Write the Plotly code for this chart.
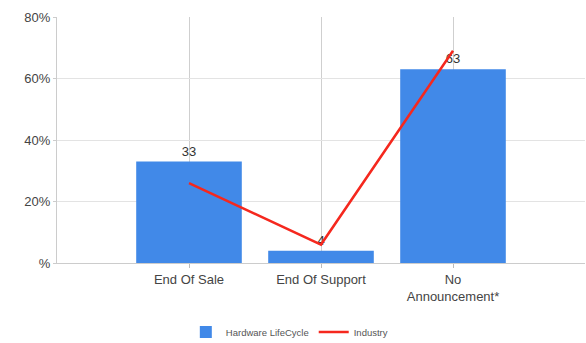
import plotly.graph_objects as go

categories = ["End Of Sale", "End Of Support", "No<br>Announcement*"]
hardware_lifecycle = [33, 4, 63]
industry = [26, 6, 69]
y_tick_values = [0, 20, 40, 60, 80]
y_tick_labels = ["%", "20%", "40%", "60%", "80%"]

fig = go.Figure()
fig.add_trace(go.Bar(
    x=categories, y=hardware_lifecycle, name="Hardware LifeCycle",
    marker=dict(color="#4189E8", line=dict(width=0)),
    width=0.8,
    text=[str(v) for v in hardware_lifecycle], textposition="outside",
    textfont=dict(size=13, color="#333333"), cliponaxis=False,
))
fig.add_trace(go.Scatter(
    x=categories, y=industry, name="Industry", mode="lines",
    line=dict(color="#F5281E", width=2.5),
))

fig.update_layout(
    width=586, height=343,
    margin=dict(l=57, r=1, t=17, b=80, autoexpand=False),
    paper_bgcolor="white", plot_bgcolor="white",
    font=dict(family="Liberation Sans, Arial, sans-serif", size=13, color="#444444"),
    showlegend=True,
    legend=dict(orientation="h", x=0.44, xanchor="center", y=-0.28, yanchor="middle",
                font=dict(size=9.5, color="#555555")),
    bargap=0.2,
)
fig.update_xaxes(
    type="category", range=[-1, 3],
    showgrid=True, gridcolor="#cfcfcf", gridwidth=1,
    showline=True, linecolor="#cccccc", linewidth=1,
    ticks="outside", ticklen=4, tickcolor="#bbbbbb",
    tickfont=dict(size=13, color="#444444"),
)
fig.update_yaxes(
    range=[0, 80], tickvals=y_tick_values, ticktext=y_tick_labels,
    showgrid=True, gridcolor="#e3e3e3", gridwidth=1,
    zeroline=False,
    showline=True, linecolor="#cccccc", linewidth=1,
    ticks="outside", ticklen=3, tickcolor="#cccccc",
    tickfont=dict(size=13, color="#444444"),
)

fig.write_html("out.html")
